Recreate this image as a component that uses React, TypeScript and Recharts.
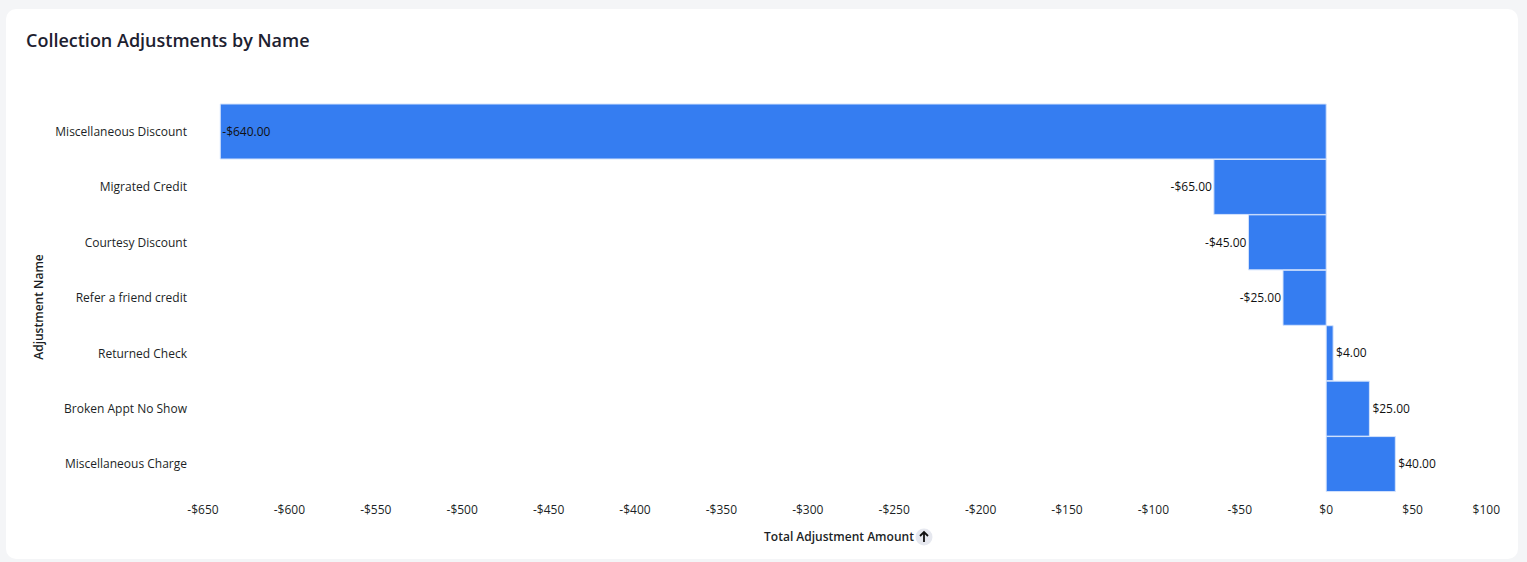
import { BarChart, Bar, XAxis, YAxis, LabelList } from "recharts";

const names = [
  "Miscellaneous Discount",
  "Migrated Credit",
  "Courtesy Discount",
  "Refer a friend credit",
  "Returned Check",
  "Broken Appt No Show",
  "Miscellaneous Charge",
];
const amounts = [-640, -65, -45, -25, 4, 25, 40];
const xTicks = [
  -650, -600, -550, -500, -450, -400, -350, -300, -250, -200, -150, -100, -50, 0, 50, 100,
];

const data = names.map((name, i) => ({ name, amount: amounts[i] }));

const FONT = "'Open Sans', sans-serif";
const BAR_COLOR = "#357DF1";
const TEXT = "#1c1f26";
const PLOT_LEFT = 197;
const PLOT_RIGHT = 1493;

const money = (v: number, digits: number) =>
  (v < 0 ? "-$" : "$") + Math.abs(v).toFixed(digits);

function XTick(props: any) {
  const { x, y, payload } = props;
  const label = money(payload.value, 0);
  // keep the last label inside the card
  const isLast = payload.value === xTicks[xTicks.length - 1];
  return (
    <text
      x={isLast ? x + 1 : x}
      y={y}
      dy="0.71em"
      textAnchor={isLast ? "end" : "middle"}
      fontSize={12}
      fontFamily={FONT}
      fill={TEXT}
    >
      {label}
    </text>
  );
}

function YTick(props: any) {
  const { x, y, payload } = props;
  return (
    <text
      x={x - 16}
      y={y}
      dy="0.35em"
      textAnchor="end"
      fontSize={12}
      fontFamily={FONT}
      fill={TEXT}
    >
      {payload.value}
    </text>
  );
}

function ValueLabel(props: any) {
  const { x, y, width, height, value } = props;
  const left = Math.min(x, x + width);
  const right = Math.max(x, x + width);
  const cy = y + height / 2;
  const text = money(value, 2);
  const est = text.length * 6.6;
  let tx = right + 3;
  let anchor = "start";
  if (value < 0) {
    if (left - 3 - est < PLOT_LEFT) {
      tx = left + 2;
      anchor = "start";
    } else {
      tx = left - 2;
      anchor = "end";
    }
  }
  return (
    <text
      x={tx}
      y={cy}
      dy="0.35em"
      textAnchor={anchor}
      fontSize={12}
      fontFamily={FONT}
      fill="#111"
    >
      {text}
    </text>
  );
}

function XTitle() {
  const cx = (PLOT_LEFT + PLOT_RIGHT) / 2;
  const y = 528;
  return (
    <g>
      <text
        x={cx - 12}
        y={y}
        textAnchor="middle"
        dy="0.35em"
        fontSize={12}
        fontWeight={600}
        fontFamily={FONT}
        fill={TEXT}
      >
        Total Adjustment Amount
      </text>
      <circle cx={cx + 73} cy={y} r={8.5} fill="#e6e8ef" />
      <path
        d={`M${cx + 73} ${y - 5} L${cx + 73} ${y + 5} M${cx + 69} ${y - 1} L${cx + 73} ${y - 5} L${cx + 77} ${y - 1}`}
        stroke="#111"
        strokeWidth={1.8}
        fill="none"
      />
    </g>
  );
}

function YTitle() {
  return (
    <text
      x={33}
      y={298}
      transform="rotate(-90 33 298)"
      textAnchor="middle"
      dy="0.35em"
      fontSize={12}
      fontWeight={600}
      fontFamily={FONT}
      fill={TEXT}
    >
      Adjustment Name
    </text>
  );
}

export default function App() {
  return (
    <div
      style={{
        position: "fixed",
        left: 0,
        top: 0,
        width: 1527,
        height: 562,
        background: "#f4f5f7",
      }}
    >
      <div
        style={{
          position: "absolute",
          left: 6,
          top: 9,
          width: 1512,
          height: 550,
          background: "#fff",
          borderRadius: 10,
        }}
      >
        <div
          style={{
            position: "absolute",
            left: 20,
            top: 19,
            fontFamily: FONT,
            fontSize: 18,
            fontWeight: 600,
            color: "#1d2130",
          }}
        >
          Collection Adjustments by Name
        </div>
        <div style={{ position: "absolute", left: 0, top: 0 }}>
          <BarChart
            width={1512}
            height={550}
            data={data}
            layout="vertical"
            margin={{ top: 95, right: 19, bottom: 37, left: 47 }}
            barCategoryGap={0}
          >
            <XAxis
              type="number"
              domain={[-650, 100]}
              ticks={xTicks}
              axisLine={false}
              tickLine={false}
              tickSize={0}
              tickMargin={13}
              height={30}
              interval={0}
              tick={<XTick />}
              label={<XTitle />}
            />
            <YAxis
              type="category"
              dataKey="name"
              width={150}
              axisLine={false}
              tickLine={false}
              tickSize={0}
              tickMargin={0}
              interval={0}
              tick={<YTick />}
              label={<YTitle />}
            />
            <Bar
              dataKey="amount"
              fill={BAR_COLOR}
              stroke="#d4e3fc"
              strokeWidth={1}
              isAnimationActive={false}
            >
              <LabelList dataKey="amount" content={<ValueLabel />} />
            </Bar>
          </BarChart>
        </div>
      </div>
    </div>
  );
}
